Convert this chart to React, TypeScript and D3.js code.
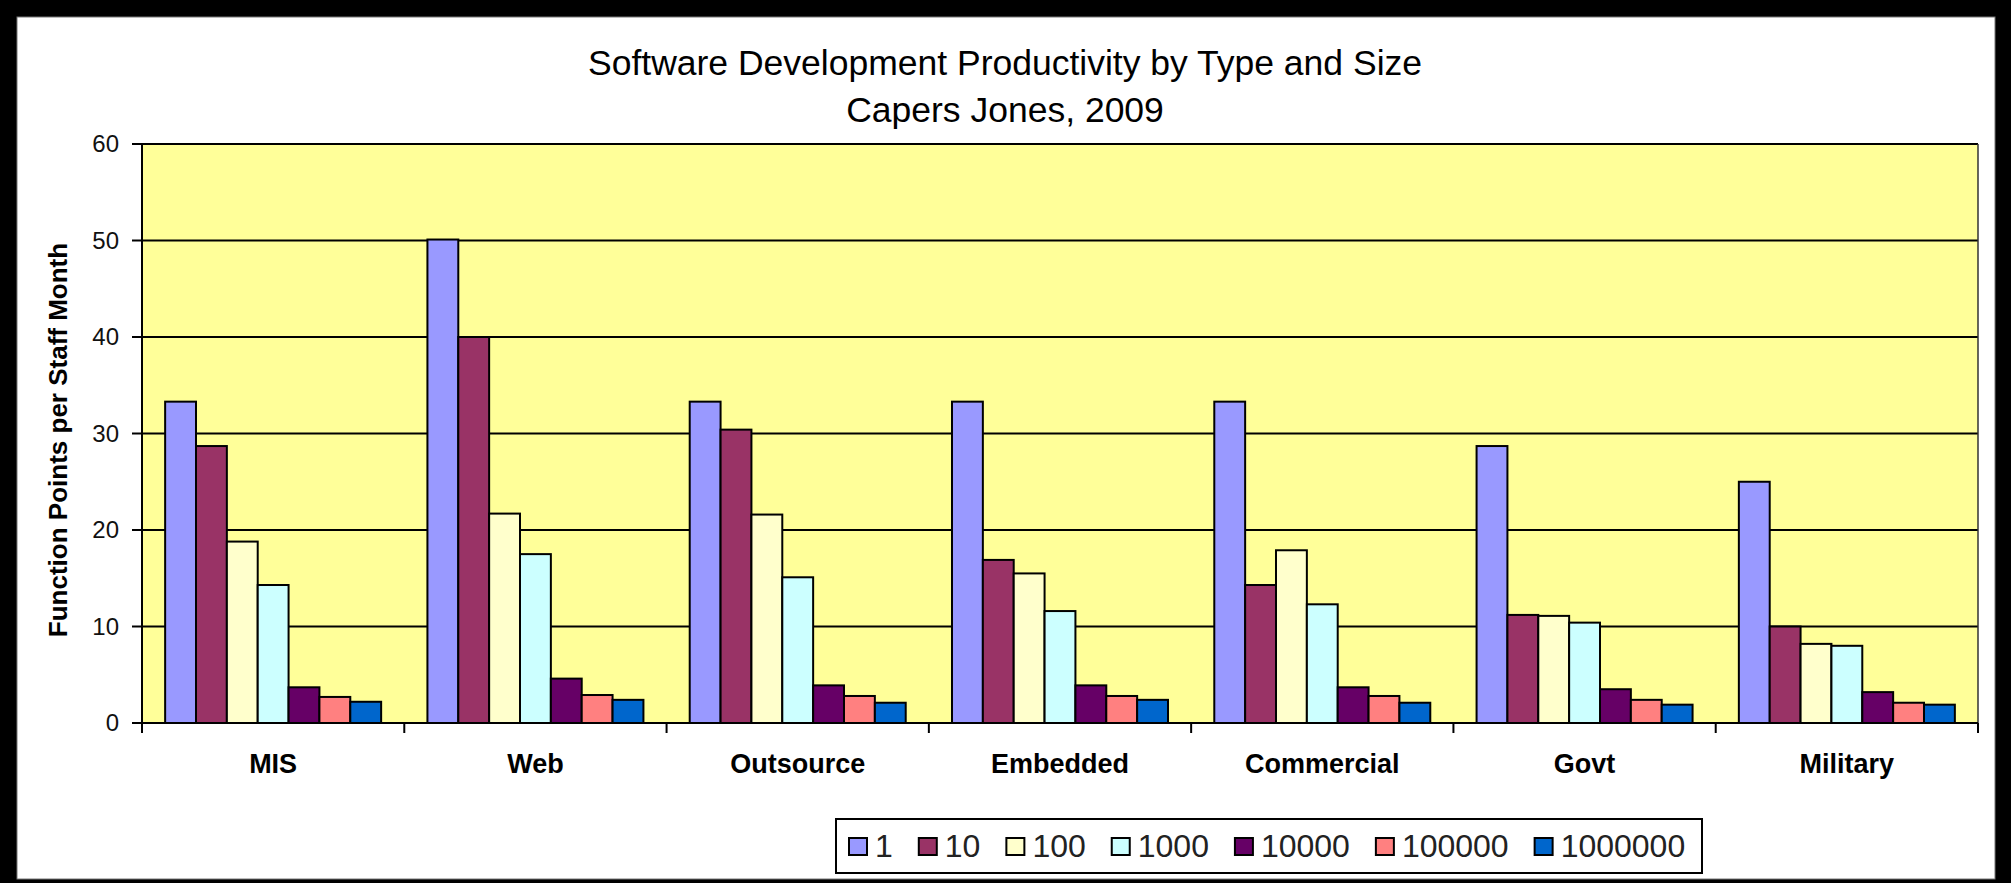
import React from "react";
import * as d3 from "d3";

const categories = ["MIS", "Web", "Outsource", "Embedded", "Commercial", "Govt", "Military"];
const sizes = ["1", "10", "100", "1000", "10000", "100000", "1000000"];
const colors = ["#9999FF", "#993366", "#FFFFCC", "#CCFFFF", "#660066", "#FF8080", "#0066CC"];

const v1 = [33.3, 50.1, 33.3, 33.3, 33.3, 28.7, 25.0];
const v10 = [28.7, 40.0, 30.4, 16.9, 14.3, 11.2, 10.0];
const v100 = [18.8, 21.7, 21.6, 15.5, 17.9, 11.1, 8.2];
const v1000 = [14.3, 17.5, 15.1, 11.6, 12.3, 10.4, 8.0];
const v10000 = [3.7, 4.6, 3.9, 3.9, 3.7, 3.5, 3.2];
const v100000 = [2.7, 2.9, 2.8, 2.8, 2.8, 2.4, 2.1];
const v1000000 = [2.2, 2.4, 2.1, 2.4, 2.1, 1.9, 1.9];
const seriesValues = [v1, v10, v100, v1000, v10000, v100000, v1000000];

const yTicks = [0, 10, 20, 30, 40, 50, 60];
const titleLines = ["Software Development Productivity by Type and Size", "Capers Jones, 2009"];
const yTitle = "Function Points per Staff Month";

const W = 2011;
const H = 883;
const plotL = 142, plotR = 1978, plotT = 144, plotB = 723;
const FONT = "Arial, 'Liberation Sans', sans-serif";

export default function App() {
  const x0 = d3.scaleBand<string>().domain(categories).range([plotL, plotR]).paddingInner(0).paddingOuter(0);
  const band = x0.bandwidth();
  const barW = band / 8.5;
  const x1 = d3.scaleBand<string>().domain(sizes).range([0.75 * barW, band - 0.75 * barW]).padding(0);
  const y = d3.scaleLinear().domain([0, 60]).range([plotB, plotT]);

  // legend layout
  const legFs = 32;
  const digitW = 0.556 * legFs;
  let cursor = 849;
  const legendItems = sizes.map((s, i) => {
    const sx = cursor;
    const tx = sx + 26;
    cursor = tx + s.length * digitW + 26;
    return { s, i, sx, tx };
  });

  return (
    <svg width={W} height={H} style={{ position: "absolute", left: 0, top: 0, display: "block" }} fontFamily={FONT}>
      <rect x={0} y={0} width={W} height={H} fill="#000" />
      <rect x={17} y={17} width={1978} height={862} fill="#fff" stroke="#777" strokeWidth={1} />

      {titleLines.map((t, i) => (
        <text key={t} x={1005} y={75 + i * 47} textAnchor="middle" fontSize={35.5} fill="#000">
          {t}
        </text>
      ))}

      <rect x={plotL} y={plotT} width={plotR - plotL} height={plotB - plotT} fill="#FFFF99" />

      {yTicks.map((t) => (
        <g key={t}>
          <line x1={plotL} x2={plotR} y1={y(t)} y2={y(t)} stroke="#000" strokeWidth={2} />
          <line x1={plotL - 10} x2={plotL} y1={y(t)} y2={y(t)} stroke="#000" strokeWidth={2} />
          <text x={119} y={y(t) + 8} textAnchor="end" fontSize={24} fill="#111">
            {t}
          </text>
        </g>
      ))}
      <line x1={plotR} x2={plotR} y1={plotT} y2={plotB} stroke="#333" strokeWidth={1.5} />

      {categories.map((c, ci) => (
        <g key={c} transform={`translate(${x0(c)},0)`}>
          {sizes.map((s, si) => {
            const v = seriesValues[si][ci];
            return (
              <rect
                key={s}
                x={x1(s)}
                y={y(v)}
                width={x1.bandwidth()}
                height={y(0) - y(v)}
                fill={colors[si]}
                stroke="#000"
                strokeWidth={2}
              />
            );
          })}
        </g>
      ))}

      <line x1={plotL} x2={plotL} y1={plotT} y2={plotB + 10} stroke="#000" strokeWidth={2} />
      <line x1={plotL} x2={plotR} y1={plotB} y2={plotB} stroke="#000" strokeWidth={2} />
      {categories.map((c) => (
        <line key={c} x1={(x0(c) as number) + band} x2={(x0(c) as number) + band} y1={plotB} y2={plotB + 10} stroke="#000" strokeWidth={2} />
      ))}
      {categories.map((c) => (
        <text key={c} x={(x0(c) as number) + band / 2} y={773} textAnchor="middle" fontSize={27} fontWeight="bold" fill="#000">
          {c}
        </text>
      ))}

      <text transform={`translate(67,440) rotate(-90)`} textAnchor="middle" fontSize={26} fontWeight="bold" fill="#000">
        {yTitle}
      </text>

      <rect x={836} y={819} width={866} height={54} fill="#fff" stroke="#000" strokeWidth={2} />
      {legendItems.map((it) => (
        <g key={it.s}>
          <rect x={it.sx} y={838} width={18} height={17} fill={colors[it.i]} stroke="#000" strokeWidth={2} />
          <text x={it.tx} y={857} fontSize={legFs} fill="#222">
            {it.s}
          </text>
        </g>
      ))}
    </svg>
  );
}
